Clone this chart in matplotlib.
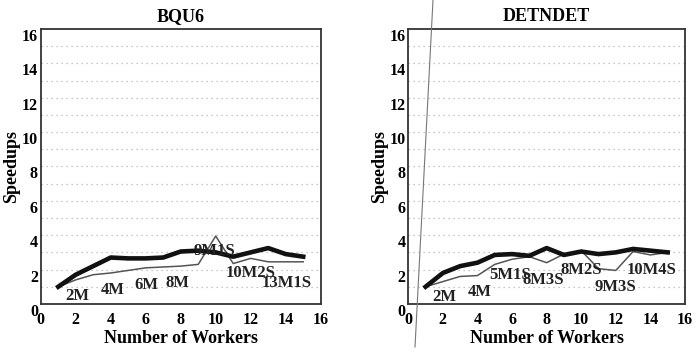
import matplotlib
matplotlib.use("Agg")
import matplotlib.pyplot as plt
from matplotlib.lines import Line2D

# number of workers
workers = list(range(1, 16))

# BQU6 speedups (thick = best, thin = alternative run)
bqu6_thick = [1.0, 1.7, 2.2, 2.7, 2.65, 2.65, 2.7, 3.05, 3.1, 3.0, 2.75, 3.0, 3.25, 2.9, 2.75]
bqu6_thin = [1.0, 1.4, 1.7, 1.8, 1.95, 2.1, 2.15, 2.2, 2.3, 3.95, 2.35, 2.65, 2.45, 2.45, 2.45]
bqu6_notes = ["2M", "4M", "6M", "8M", "9M1S", "10M2S", "13M1S"]
bqu6_note_x = [2.1, 4.1, 6.05, 7.8, 9.95, 12.0, 14.05]
bqu6_note_y = [0.45, 0.82, 1.1, 1.22, 3.06, 1.8, 1.2]

# DETNDET speedups
det_thick = [1.0, 1.8, 2.2, 2.4, 2.85, 2.9, 2.8, 3.25, 2.85, 3.05, 2.9, 3.0, 3.2, 3.1, 3.0]
det_thin = [1.0, 1.3, 1.6, 1.65, 2.3, 2.6, 2.75, 2.4, 2.9, 3.1, 2.05, 1.95, 3.05, 2.85, 3.0]
det_notes = ["2M", "4M", "5M1S", "8M3S", "8M2S", "9M3S", "10M4S"]
det_note_x = [2.1, 4.14, 5.88, 7.8, 10.0, 11.95, 14.07]
det_note_y = [0.4, 0.72, 1.7, 1.4, 2.0, 1.0, 2.0]

plt.rcParams['font.family'] = ['Liberation Serif', 'DejaVu Serif']
plt.rcParams['font.weight'] = 'bold'

fig = plt.figure(figsize=(6.96, 3.53), dpi=100)
ax1 = fig.add_axes([0.0585, 0.139, 0.4023, 0.779])
ax2 = fig.add_axes([0.5866, 0.139, 0.3976, 0.779])


def draw(ax, title, thick, thin, notes, nx, ny):
    ax.set_xlim(0, 16)
    ax.set_ylim(0, 16)
    for g in range(1, 16):
        ax.axhline(g, color='#b5b5b5', lw=0.9, ls=(0, (1, 3)), zorder=0)
    ax.plot(workers, thin, color='#555555', lw=1.1, zorder=2)
    ax.plot(workers, thick, color='#111111', lw=3.3, zorder=3)
    for t, x, y in zip(notes, nx, ny):
        ax.text(x, y, t, ha='center', va='center', fontsize=12,
                fontweight='bold', color='#222222', zorder=4)
    ax.set_xticks(range(0, 17, 2))
    ax.set_yticks(range(0, 17, 2))
    ax.tick_params(length=0, labelsize=11.5)
    ax.tick_params(axis='y', pad=2)
    ax.tick_params(axis='x', pad=6)
    for lab in ax.get_yticklabels():
        lab.set_va('top')
        lab.set_fontweight('bold')
    for lab in ax.get_xticklabels():
        lab.set_fontweight('bold')
    for s in ax.spines.values():
        s.set_linewidth(1.3)
        s.set_color('#333333')
    ax.set_title(title, fontsize=13, fontweight='bold', pad=6)
    ax.set_xlabel("Number of Workers", fontsize=13, fontweight='bold', labelpad=1)
    ax.set_ylabel("Speedups", fontsize=13, fontweight='bold')
    ax.yaxis.set_label_coords(-0.072, 0.5)


draw(ax1, "BQU6", bqu6_thick, bqu6_thin, bqu6_notes, bqu6_note_x, bqu6_note_y)
draw(ax2, "DETNDET", det_thick, det_thin, det_notes, det_note_x, det_note_y)

# scanning streak across the right panel
fig.add_artist(Line2D([433 / 696, 415 / 696], [1.0, 1 - 347 / 353],
                      transform=fig.transFigure, color='#777777', lw=0.8))

fig.savefig("out.png", dpi=100)
